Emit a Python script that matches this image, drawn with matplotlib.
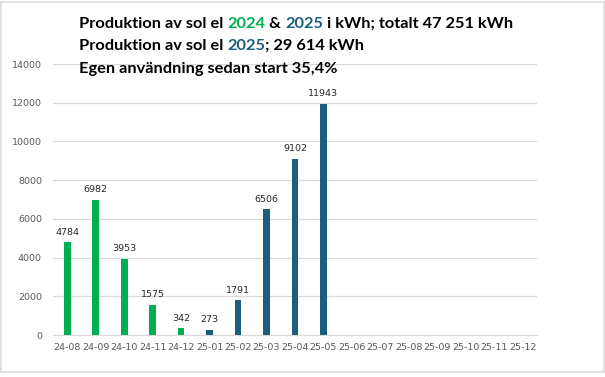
import matplotlib
matplotlib.use("Agg")
import matplotlib.pyplot as plt
import numpy as np
from matplotlib.patches import Rectangle

months = ["24-08", "24-09", "24-10", "24-11", "24-12", "25-01", "25-02", "25-03",
          "25-04", "25-05", "25-06", "25-07", "25-08", "25-09", "25-10", "25-11", "25-12"]
production = [4784, 6982, 3953, 1575, 342, 273, 1791, 6506, 9102, 11943,
              0, 0, 0, 0, 0, 0, 0]

green = "#00B050"
blue = "#1B5E7E"
colors = [green if m.startswith("24") else blue for m in months]

fig = plt.figure(figsize=(6.05, 3.77), dpi=100)
ax = fig.add_axes([0.0876, 0.1114, 0.80, 0.7186])

x = np.arange(len(months))
ax.bar(x, production, width=0.235, color=colors, zorder=3)
for xi, v in zip(x, production):
    if v > 0:
        ax.text(xi, v + 280, str(v), ha="center", va="bottom", fontsize=6.8, color="#262626")

ax.set_xlim(-0.5, len(months) - 0.5)
ax.set_ylim(0, 14000)
ax.set_yticks(range(0, 14001, 2000))
ax.set_xticks(x, months)
ax.tick_params(length=0, labelsize=6.8, colors="#595959")
ax.tick_params(axis="x", pad=6)
ax.tick_params(axis="y", pad=8)
ax.yaxis.grid(True, color="#D9D9D9", linewidth=0.9, zorder=0)
for s in ["top", "right", "left"]:
    ax.spines[s].set_visible(False)
ax.spines["bottom"].set_color("#D9D9D9")

# title lines, with coloured years
fig.canvas.draw()
renderer = fig.canvas.get_renderer()
tkw = dict(fontsize=11.8, fontweight="bold", family="Lato", va="baseline")

def draw_line(parts, x0, y0):
    xpos = x0
    for txt, col in parts:
        t = fig.text(xpos, y0, txt, color=col, **tkw)
        bb = t.get_window_extent(renderer=renderer)
        xpos += bb.width / fig.bbox.width

draw_line([("Produktion av sol el ", "black"), ("2024", green), (" & ", "black"),
           ("2025", blue), (" i kWh; totalt 47 251 kWh", "black")], 0.130, 1 - 28 / 377)
draw_line([("Produktion av sol el ", "black"), ("2025", blue), ("; 29 614 kWh", "black")],
          0.130, 1 - 50 / 377)
draw_line([("Egen användning sedan start 35,4%", "black")], 0.130, 1 - 73 / 377)

fig.add_artist(Rectangle((0.002, 0.012), 0.996, 0.984, transform=fig.transFigure,
                         fill=False, edgecolor="#DDDDDD", linewidth=1.2))

fig.savefig("out.png", dpi=100)
